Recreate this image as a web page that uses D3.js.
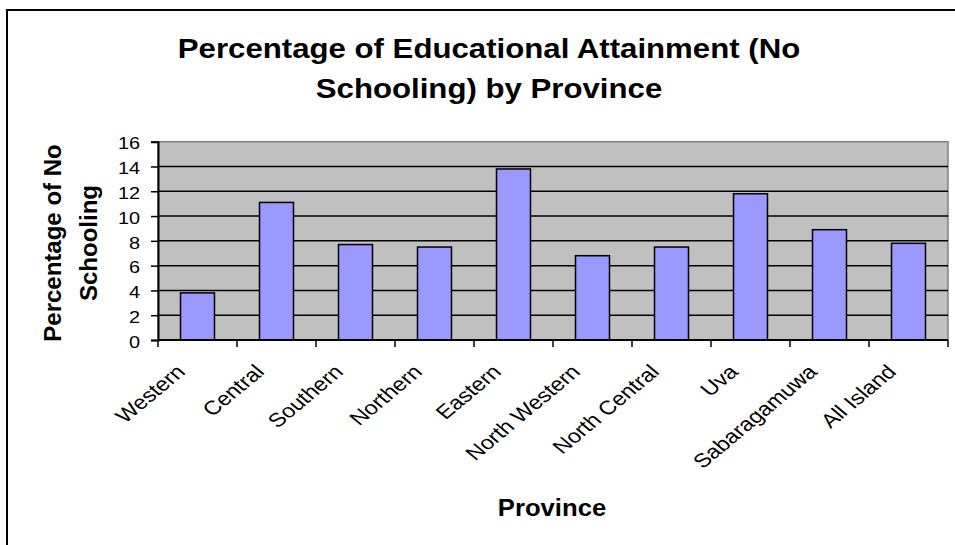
<!DOCTYPE html>
<html>
<head>
<meta charset="utf-8">
<script src="https://cdn.jsdelivr.net/npm/d3@7"></script>
<style>
  body { margin: 0; background: #fff; }
  svg { display: block; font-family: "Liberation Sans", Arial, sans-serif; }
</style>
</head>
<body>
<svg width="955" height="545"></svg>
<script>
// chart data
var provinces = ["Western", "Central", "Southern", "Northern", "Eastern",
                 "North Western", "North Central", "Uva", "Sabaragamuwa", "All Island"];
var noSchooling = [3.8, 11.1, 7.7, 7.5, 13.8, 6.8, 7.5, 11.8, 8.9, 7.8];
var yTicks = [0, 2, 4, 6, 8, 10, 12, 14, 16];
var titleLines = ["Percentage of Educational Attainment (No", "Schooling) by Province"];
var yTitleLines = ["Percentage of No", "Schooling"];

function main() {
    var svg = d3.select("svg");
    var left = 158, right = 948, top = 141.7, bottom = 340;
    var stretch = 1.17; // the original picture is a bit wider than tall

    // outer chart frame
    svg.append("rect")
       .attr("x", 7).attr("y", 10)
       .attr("width", 960).attr("height", 560)
       .attr("fill", "none").attr("stroke", "#000").attr("stroke-width", 2);

    var xScale = d3.scaleBand().domain(provinces).range([left, right])
                   .paddingInner(0.57).paddingOuter(0.285),
        yScale = d3.scaleLinear().domain([0, 16]).range([bottom, top]);

    // plot area
    svg.append("rect")
       .attr("x", left).attr("y", top)
       .attr("width", right - left).attr("height", bottom - top)
       .attr("fill", "#c0c0c0").attr("stroke", "#808080").attr("stroke-width", 1.5);

    // gridlines
    svg.append("g").selectAll("line")
       .data(yTicks.filter(function(d) { return d > 0 && d < 16; }))
       .enter().append("line")
       .attr("x1", left).attr("x2", right)
       .attr("y1", function(d) { return yScale(d); })
       .attr("y2", function(d) { return yScale(d); })
       .attr("stroke", "#000").attr("stroke-width", 1.5);

    // bars
    svg.append("g").selectAll("rect")
       .data(provinces)
       .enter().append("rect")
       .attr("x", function(d) { return xScale(d); })
       .attr("y", function(d, i) { return yScale(noSchooling[i]); })
       .attr("width", xScale.bandwidth())
       .attr("height", function(d, i) { return bottom - yScale(noSchooling[i]); })
       .attr("fill", "#9999ff").attr("stroke", "#000").attr("stroke-width", 1.5);

    // y axis (labels drawn separately so they can be stretched)
    var yAxis = svg.append("g")
       .attr("transform", "translate(" + left + ",0)")
       .call(d3.axisLeft(yScale).tickValues(yTicks).tickSize(7).tickFormat(""));
    yAxis.select(".domain").attr("stroke", "#000").attr("stroke-width", 2);
    yAxis.selectAll("line").attr("stroke-width", 1.5);

    svg.append("g").selectAll("text")
       .data(yTicks)
       .enter().append("text")
       .attr("transform", function(d) { return "translate(140," + yScale(d) + ") scale(" + stretch + ",1)"; })
       .attr("dy", "0.45em")
       .attr("text-anchor", "end")
       .attr("font-size", "17px")
       .text(function(d) { return d; });

    // x axis line + ticks between categories
    var gap = (xScale.step() - xScale.bandwidth()) / 2;
    var bounds = provinces.map(function(d) { return xScale(d) - gap; }).concat([right]);
    var xAxis = svg.append("g");
    xAxis.append("line")
       .attr("x1", left).attr("x2", right).attr("y1", bottom).attr("y2", bottom)
       .attr("stroke", "#000").attr("stroke-width", 2);
    xAxis.selectAll(".tick")
       .data(bounds)
       .enter().append("line")
       .attr("x1", function(d) { return d; }).attr("x2", function(d) { return d; })
       .attr("y1", bottom).attr("y2", bottom + 7)
       .attr("stroke", "#000").attr("stroke-width", 1.5);

    // rotated category labels
    xAxis.selectAll("text")
       .data(provinces)
       .enter().append("text")
       .attr("transform", function(d) {
           return "translate(" + (xScale(d) + xScale.bandwidth() / 2 - 11) + ",373) scale(1.2,1) rotate(-45)";
       })
       .attr("text-anchor", "end")
       .attr("font-size", "19.5px")
       .text(function(d) { return d; });

    // chart title
    svg.append("g").selectAll("text")
       .data(titleLines)
       .enter().append("text")
       .attr("transform", function(d, i) { return "translate(489," + (58 + i * 40) + ") scale(1.155,1)"; })
       .attr("text-anchor", "middle")
       .attr("font-size", "27px").attr("font-weight", "bold")
       .text(function(d) { return d; });

    // y axis title
    svg.append("g").selectAll("text")
       .data(yTitleLines)
       .enter().append("text")
       .attr("transform", function(d, i) { return "translate(" + (61 + i * 36) + ",243) rotate(-90)"; })
       .attr("text-anchor", "middle")
       .attr("font-size", "24px").attr("font-weight", "bold")
       .text(function(d) { return d; });

    // x axis title
    svg.append("text")
       .attr("transform", "translate(552,516) scale(1.07,1)")
       .attr("text-anchor", "middle")
       .attr("font-size", "24px").attr("font-weight", "bold")
       .text("Province");
}
main();
</script>
</body>
</html>
